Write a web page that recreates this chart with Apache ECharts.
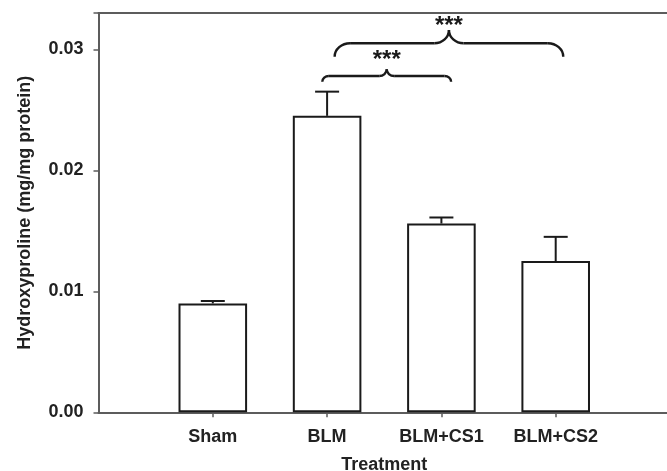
<!DOCTYPE html>
<html>
<head>
<meta charset="utf-8">
<script src="https://cdn.jsdelivr.net/npm/echarts@6/dist/echarts.min.js"></script>
<style>
html,body{margin:0;padding:0;background:#fff;}
#c{width:667px;height:471px;}
</style>
</head>
<body>
<div id="c"></div>
<script>
// ---- data ----
const categories = ['Sham', 'BLM', 'BLM+CS1', 'BLM+CS2'];
const means = [0.0090, 0.0245, 0.0156, 0.0125];
const errors = [0.0002, 0.0020, 0.0005, 0.0020];
const yTicks = [0, 0.01, 0.02, 0.03];
// significance brackets: [xStart, xEnd, yEnd, yLine, yPeak, yText, label] (x in category slots, Sham = 1)
const brackets = [
  [1.958, 3.085, 0.02732, 0.02779, 0.02835, 0.02939, '***'],
  [2.066, 4.066, 0.02939, 0.03050, 0.03160, 0.03226, '***']
];

// ---- build ----
const axisCats = [''].concat(categories).concat(['']);
const barData = [null].concat(means).concat([null]);
const errData = means.map((m, i) => [i + 1, m, errors[i]]);

const FONT = 'Liberation Sans, Arial, sans-serif';
const INK = '#1a1a1a';
const AX = '#5c5c5c';

const chart = echarts.init(document.getElementById('c'), null, {renderer: 'canvas'});

function renderErr(params, api) {
  const x = api.value(0), m = api.value(1), e = api.value(2);
  const p0 = api.coord([x, m]);
  const p1 = api.coord([x, m + e]);
  const cap = 12;
  return {
    type: 'group',
    children: [
      {type: 'line', shape: {x1: p0[0], y1: p0[1], x2: p1[0], y2: p1[1]}, style: {stroke: INK, lineWidth: 2}},
      {type: 'line', shape: {x1: p1[0] - cap, y1: p1[1], x2: p1[0] + cap, y2: p1[1]}, style: {stroke: INK, lineWidth: 2}}
    ]
  };
}

function renderBracket(params, api) {
  const a = api.coord([api.value(0), api.value(2)]);
  const b = api.coord([api.value(1), api.value(2)]);
  const yL = api.coord([api.value(0), api.value(3)])[1];
  const yP = api.coord([api.value(0), api.value(4)])[1];
  const yT = api.coord([api.value(0), api.value(5)])[1];
  const label = brackets[params.dataIndex][6];
  const xc = (a[0] + b[0]) / 2;
  const drop = a[1] - yL;
  const rise = yL - yP;
  const r = drop * 1.15;
  const p = rise * 1.1;
  const k = 0.55;
  const st = {stroke: INK, lineWidth: 2.4, fill: null};
  const ch = [];
  ch.push({type: 'bezierCurve', shape: {x1: a[0], y1: a[1], cpx1: a[0], cpy1: a[1] - drop * k, cpx2: a[0] + r * (1 - k), cpy2: yL, x2: a[0] + r, y2: yL}, style: st});
  ch.push({type: 'line', shape: {x1: a[0] + r, y1: yL, x2: xc - p, y2: yL}, style: st});
  ch.push({type: 'bezierCurve', shape: {x1: xc - p, y1: yL, cpx1: xc - p * (1 - k), cpy1: yL, cpx2: xc, cpy2: yL - rise * (1 - k), x2: xc, y2: yP}, style: st});
  ch.push({type: 'bezierCurve', shape: {x1: xc, y1: yP, cpx1: xc, cpy1: yL - rise * (1 - k), cpx2: xc + p * (1 - k), cpy2: yL, x2: xc + p, y2: yL}, style: st});
  ch.push({type: 'line', shape: {x1: xc + p, y1: yL, x2: b[0] - r, y2: yL}, style: st});
  ch.push({type: 'bezierCurve', shape: {x1: b[0] - r, y1: yL, cpx1: b[0] - r * (1 - k), cpy1: yL, cpx2: b[0], cpy2: b[1] - drop * k, x2: b[0], y2: b[1]}, style: st});
  ch.push({type: 'text', style: {text: label, x: xc, y: yT + 4, align: 'center', verticalAlign: 'middle', fill: INK, font: 'bold 24px ' + FONT}});
  return {type: 'group', children: ch};
}

const option = {
  animation: false,
  backgroundColor: '#fff',
  grid: {left: 98.5, width: 571.5, top: 13, height: 399.3, containLabel: false, outerBoundsMode: 'none'},
  xAxis: [
    {
      type: 'category', data: axisCats, boundaryGap: false,
      axisLine: {lineStyle: {color: AX, width: 2}},
      axisTick: {show: true, length: 5, inside: false, interval: (i) => i > 0 && i < axisCats.length - 1, lineStyle: {color: AX, width: 1.5}},
      axisLabel: {margin: 16, color: '#222', fontSize: 18, fontWeight: 'bold', fontFamily: FONT, interval: 0},
      splitLine: {show: false},
      name: 'Treatment', nameLocation: 'middle', nameGap: 44,
      nameTextStyle: {color: '#222', fontSize: 18, fontWeight: 'bold', fontFamily: FONT}
    },
    {type: 'value', min: 0, max: axisCats.length - 1, show: false},
    {
      type: 'category', data: axisCats, boundaryGap: false, position: 'top',
      axisLine: {show: true, lineStyle: {color: AX, width: 2}},
      axisTick: {show: false}, axisLabel: {show: false}, splitLine: {show: false}
    }
  ],
  yAxis: {
    type: 'value', min: 0, max: 0.033, interval: 0.01,
    axisLine: {show: true, lineStyle: {color: AX, width: 2}},
    axisTick: {show: true, length: 5, lineStyle: {color: AX, width: 1.5}},
    axisLabel: {margin: 15, color: '#222', fontSize: 18, fontWeight: 'bold', fontFamily: FONT,
      formatter: (v) => yTicks.some(t => Math.abs(t - v) < 1e-9) ? v.toFixed(2) : ''},
    splitLine: {show: false},
    name: 'Hydroxyproline (mg/mg protein)', nameLocation: 'middle', nameGap: 64,
    nameTextStyle: {color: '#222', fontSize: 18, fontWeight: 'bold', fontFamily: FONT}
  },
  series: [
    {
      type: 'bar', data: barData, barWidth: '60%', xAxisIndex: 0,
      itemStyle: {color: '#fff', borderColor: INK, borderWidth: 2},
      z: 2
    },
    {
      type: 'custom', xAxisIndex: 0, data: errData, renderItem: renderErr, z: 3,
      encode: {x: 0, y: [1, 2]}
    },
    {
      type: 'custom', xAxisIndex: 1, data: brackets.map(b => b.slice(0, 6)), renderItem: renderBracket, z: 4,
      encode: {x: [0, 1], y: [2, 3, 4, 5]}, clip: false
    }
  ]
};
chart.setOption(option);
</script>
</body>
</html>
